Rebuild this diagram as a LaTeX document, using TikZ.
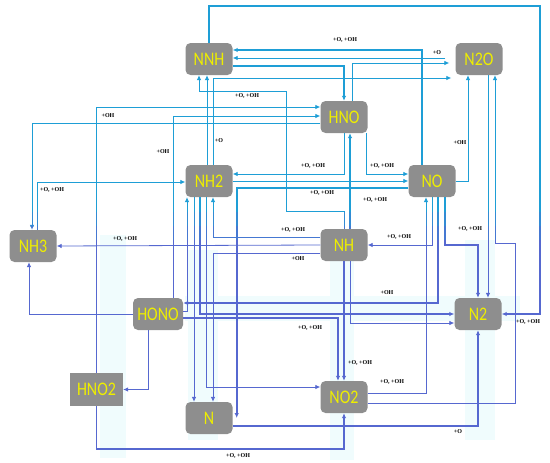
\documentclass[tikz,border=0pt]{standalone}
\usepackage{fontspec}
\setmainfont{Liberation Serif}
\newfontfamily\boxfont{Carlito}
\usepackage{tikz}
\usetikzlibrary{arrows.meta}

\definecolor{wirecyan}{RGB}{30,158,214}
\definecolor{wireblue}{RGB}{86,104,208}
\definecolor{boxgray}{RGB}{142,142,142}
\definecolor{boxtext}{RGB}{238,238,0}
\definecolor{glow}{RGB}{240,252,253}

\newcommand{\tallname}[1]{\scalebox{1}[1.2]{#1}}

% all reaction connectors, drawn once per colour band
\newcommand{\reactionpaths}{%
  \draw[boldline] (422,0 |- NO.north) |- (NNH.east |- 0,50);
  \draw[boldline] (NNH.east |- 0,66) -| (HNO.north);
  \draw[thinline,shorten <=10pt] (N2O.west |- 0,58) -- (NNH.east |- 0,58);
  \draw[thinline,shorten >=6pt] (352,0 |- HNO.north) |- (N2O.west |- 0,63);
  \draw[thinline,shorten >=4pt] (213,0 |- NH2.north) |- (N2O.west |- 0,78);
  \draw[thinline] (207,0 |- NH2.north) -- (207,0 |- NNH.south);
  \draw[thinline] (NH.north) |- (286,211) |- (199,91) -- (199,0 |- NNH.south);
  \draw[boldline] (350,0 |- NH.north) -- (350,0 |- HNO.south);
  \draw[thinline] (HNO.south) |- (NH2.east |- 0,174);
  \draw[thinline] (366,0 |- HNO.south) |- (NO.west |- 0,174);
  \draw[thinline] (NH2.east) -- (NO.west);
  \draw[boldline] (NO.west |- 0,188) -| ([xshift=4pt]N.east);
  \draw[thinline] (NO.east) -| (468,0 |- N2O.south);
  \draw[thinline] (488,0 |- N2O.south) -- (488,0 |- N2.north);
  \draw[thinline] (NO2.east |- 0,403) -| (515,243) -| (495,0 |- N2O.south);
  \draw[midline] (NNH.north) |- (540,6) |- (N2.east);
  \draw[thinline] (NO2.east |- 0,393) -| (426,0 |- NO.south);
  \draw[thinline] (432,0 |- NO.south) |- (NH.east);
  \draw[boldline] (438,0 |- NO.south) |- (HONO.east |- 0,303);
  \draw[boldline] (445,0 |- NO.south) |- (N2.north |- 0,245) -- (N2.north);
  \draw[thinline] (HNO.west |- 0,123) -| (32,0 |- NH3.north);
  \draw[thinline] (37,0 |- NH3.north) |- (NH2.west |- 0,182);
  \draw[thinline] (HNO2.north) |- (HNO.west |- 0,107);
  \draw[thinline] (173,0 |- HONO.north) |- (HNO.west |- 0,116);
  \draw[thinline] (NH.west |- 0,237) -| (213,0 |- NH2.south);
  \draw[thinline] (NH.west) -- (NH3.east);
  \draw[thinline] (NH.west |- 0,253) -| (213,0 |- N.north);
  \draw[midline] (NH.south) -- (NO2.north);
  \draw[thinline] (350,0 |- NH.south) |- (N2.west |- 0,323);
  \draw[boldline] (HONO.east |- 0,318) -| (338,0 |- NO2.north);
  \draw[midline] (200,0 |- NH2.south) |- (N2.west |- 0,314);
  \draw[thinline] (194,0 |- NH2.south) -- (194,0 |- N.north);
  \draw[thinline] (206,0 |- NH2.south) |- (NO2.west |- 0,387);
  \draw[thinline] (HONO.east |- 0,311) -| (187,0 |- NH2.south);
  \draw[thinline] (HONO.west) -| (29,0 |- NH3.south);
  \draw[thinline] (148,0 |- HONO.south) |- (HNO2.east);
  \draw[boldline] (HNO2.south) |- (NO2.south |- 0,449) -- (NO2.south);
  \draw[boldline] (N.east |- 0,426) -| (N2.south);
}

\begin{document}
\begin{tikzpicture}[x=1pt,y=-1pt,>={Latex[length=5pt,width=4.5pt]},
    species/.style={fill=boxgray,rounded corners=5pt,minimum width=47pt,minimum height=32pt,
      inner sep=0pt,text=boxtext,font=\boxfont\fontsize{16}{16}\selectfont},
    thinline/.style={->,line width=0.8pt},
    midline/.style={->,line width=1.2pt},
    boldline/.style={->,line width=1.7pt},
    rate/.style={font=\bfseries\fontsize{6}{7}\selectfont,inner sep=0pt,text=black}]

  \useasboundingbox (0,0) rectangle (550,463);

  % faint glow behind the lower lines
  \fill[glow] (185,296) rectangle (520,321);
  \fill[glow] (100,235) rectangle (126,458);
  \fill[glow] (188,250) rectangle (218,440);
  \fill[glow] (330,250) rectangle (354,460);
  \fill[glow] (465,240) rectangle (495,440);

  \node[species] (NNH)  at (209,59)  {\tallname{NNH}};
  \node[species] (N2O)  at (479,59)  {\tallname{N2O}};
  \node[species] (HNO)  at (344,117) {\tallname{HNO}};
  \node[species] (NH2)  at (209,181) {\tallname{NH2}};
  \node[species] (NO)   at (432,181) {\tallname{NO}};
  \node[species] (NH3)  at (33,246)  {\tallname{NH3}};
  \node[species] (NH)   at (344,245) {\tallname{NH}};
  \node[species,minimum width=50pt] (HONO) at (158,314) {\tallname{HONO}};
  \node[species] (N2)   at (478,314) {\tallname{N2}};
  \node[species,rounded corners=0pt,minimum width=53pt,minimum height=33pt] (HNO2) at (96.5,389.5) {\tallname{HNO2}};
  \node[species] (NO2)  at (344,397) {\tallname{NO2}};
  \node[species] (N)    at (209,418) {\tallname{N}};

  % colour runs from cyan at the top to blue at the bottom
  \begin{scope}[color=wirecyan]
    \clip (0,0) rectangle (550,212);
    \reactionpaths
  \end{scope}
  \begin{scope}[color=wirecyan!65!wireblue]
    \clip (0,212) rectangle (550,226);
    \reactionpaths
  \end{scope}
  \begin{scope}[color=wirecyan!30!wireblue]
    \clip (0,226) rectangle (550,240);
    \reactionpaths
  \end{scope}
  \begin{scope}[color=wireblue]
    \clip (0,240) rectangle (550,463);
    \reactionpaths
  \end{scope}

  \node[rate] (r1)  at (345,40)  {+O, +OH};
  \node[rate] (r2)  at (437,53)  {+O};
  \node[rate] (r3)  at (247,96)  {+O, +OH};
  \node[rate] (r4)  at (108,116) {+OH};
  \node[rate] (r5)  at (163,152) {+OH};
  \node[rate] (r6)  at (219,141) {+O};
  \node[rate] (r7)  at (52,190)  {+O, +OH};
  \node[rate] (r8)  at (313,166) {+O, +OH};
  \node[rate] (r9)  at (382,166) {+O, +OH};
  \node[rate] (r10) at (460,143) {+OH};
  \node[rate] (r11) at (322,193) {+O, +OH};
  \node[rate] (r12) at (375,200) {+O, +OH};
  \node[rate] (r13) at (293,230) {+O, +OH};
  \node[rate] (r14) at (125,239) {+O, +OH};
  \node[rate] (r15) at (399,237) {+O, +OH};
  \node[rate] (r16) at (470,229) {+O, +OH};
  \node[rate] (r17) at (298,259) {+OH};
  \node[rate] (r18) at (387,293) {+OH};
  \node[rate] (r19) at (310,328) {+O, +OH};
  \node[rate] (r20) at (528,322) {+O, +OH};
  \node[rate] (r21) at (360,363) {+O, +OH};
  \node[rate] (r22) at (392,382) {+O, +OH};
  \node[rate] (r23) at (458,432) {+O};
  \node[rate] (r24) at (238,456) {+O, +OH};
\end{tikzpicture}
\end{document}
